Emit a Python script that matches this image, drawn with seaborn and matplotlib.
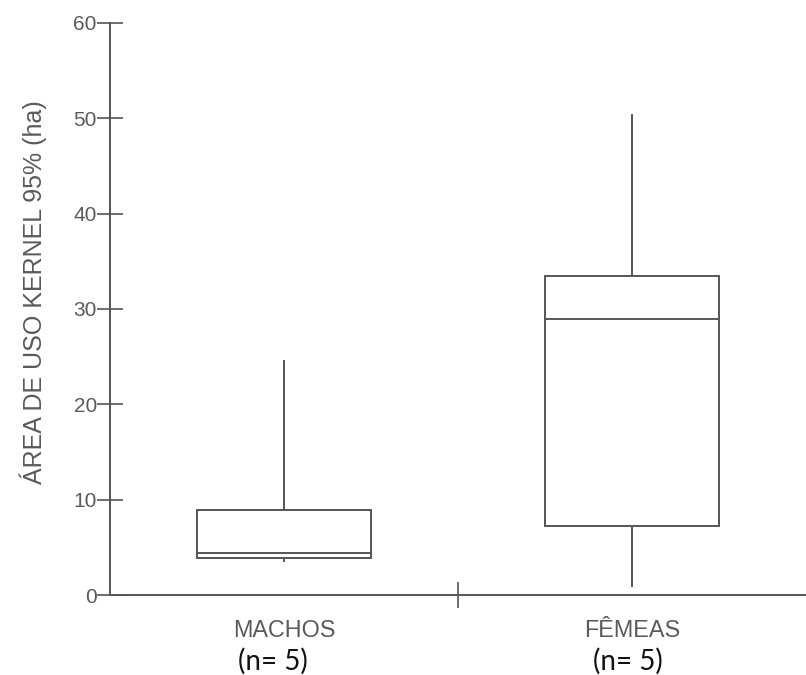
import seaborn as sns
import matplotlib.pyplot as plt
import pandas as pd

# values (n = 5 per group)
machos = [3.5, 3.9, 4.4, 8.9, 24.7]
femeas = [0.8, 7.2, 28.9, 33.5, 50.5]
groups = ["MACHOS", "FÊMEAS"]
n_labels = ["(n= 5)", "(n= 5)"]
yticks = [0, 10, 20, 30, 40, 50, 60]

df = pd.DataFrame({
    "grupo": [groups[0]] * len(machos) + [groups[1]] * len(femeas),
    "area": machos + femeas,
})

sns.set_style("white")
plt.rcParams['font.family'] = ['Liberation Sans', 'DejaVu Sans']

gray = '#555555'
txt = '#5a5a5a'

fig = plt.figure(figsize=(8.06, 6.75), dpi=100)
ax = fig.add_axes([0.1365, 0.1185, 0.8635, 0.8475])

sns.boxplot(data=df, x="grupo", y="area", order=groups, whis=(0, 100),
            width=0.5, color='white', linecolor=gray, linewidth=1.4,
            showcaps=False, ax=ax)

ax.set_xlim(-0.5, 1.5)
ax.set_ylim(0, 60)
ax.set_yticks(yticks)
ax.set_xlabel('')
ax.set_ylabel('ÁREA DE USO KERNEL 95% (ha)', color=txt, fontsize=18)
ax.yaxis.set_label_coords(-0.09, 0.53)

# spines
for s in ['top', 'right']:
    ax.spines[s].set_visible(False)
for s in ['left', 'bottom']:
    ax.spines[s].set_color(gray)
    ax.spines[s].set_linewidth(1.4)

# y ticks crossing the axis
ax.tick_params(axis='y', left=True, direction='inout', length=19, width=1.2,
               color=gray, labelsize=15, labelcolor=txt, pad=0)
# category labels without tick marks, separator tick between groups
ax.tick_params(axis='x', which='major', bottom=True, length=0, labelsize=16.8,
               labelcolor=txt, pad=17)
ax.set_xticks([0.5], minor=True)
ax.tick_params(axis='x', which='minor', bottom=True, direction='inout',
               length=19, width=1.2, color=gray)

for i, lab in enumerate(n_labels):
    ax.annotate(lab, xy=(i, 0), xycoords=('data', 'axes fraction'),
                xytext=(-8 if i == 0 else -3, -38), textcoords='offset points',
                ha='center', va='top', fontsize=20, color='#111111',
                family=['Lato', 'DejaVu Sans'])

fig.savefig('out.png', dpi=100)
